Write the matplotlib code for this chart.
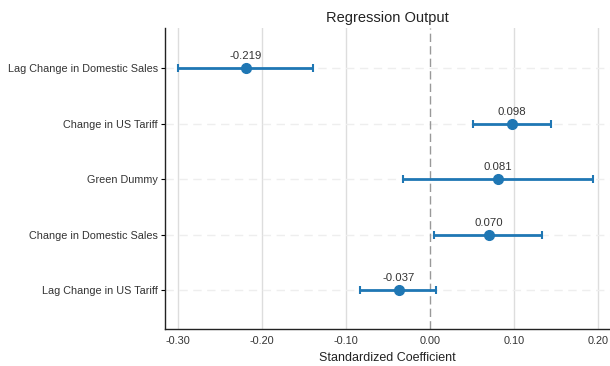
"""Coefficient plot of the standardized regression estimates."""
import matplotlib.pyplot as plt

plt.rcParams['font.family'] = ['Liberation Sans', 'DejaVu Sans']

variables = ["Lag Change in Domestic Sales", "Change in US Tariff", "Green Dummy",
             "Change in Domestic Sales", "Lag Change in US Tariff"]
coefs = [-0.219, 0.098, 0.081, 0.070, -0.037]
ci_low = [-0.300, 0.052, -0.032, 0.005, -0.083]
ci_high = [-0.139, 0.144, 0.194, 0.134, 0.008]
xticks = [-0.30, -0.20, -0.10, 0.00, 0.10, 0.20]

BLUE = "#1f77b4"

fig = plt.figure(figsize=(6.1, 3.66), dpi=100)
ax = fig.add_axes([0.2705, 0.1003, 0.7295, 0.8232])

ys = list(range(len(variables)))

for x in xticks:
    if x != 0:
        ax.axvline(x, color="#dddddd", linewidth=1, zorder=0)
for y in ys:
    ax.axhline(y, color="#eeeeee", linewidth=1, linestyle=(0, (6, 4)), zorder=0)
ax.axvline(0, color="#999999", linewidth=1, linestyle=(0, (6, 3)), zorder=1)

for y, c, lo, hi in zip(ys, coefs, ci_low, ci_high):
    ax.errorbar(c, y, xerr=[[c - lo], [hi - c]], fmt="o", color=BLUE,
                markersize=7, elinewidth=2, capsize=3, capthick=1.5, zorder=3)
    ax.annotate(f"{c:.3f}", (c, y), textcoords="offset points", xytext=(0, 5),
                ha="center", va="bottom", fontsize=8.2, color="#333333")

ax.set_xlim(-0.315, 0.2146)
ax.set_ylim(len(variables) - 0.3, -0.72)
ax.set_yticks(ys)
ax.set_yticklabels(variables)
ax.set_xticks(xticks)
ax.set_xticklabels([f"{x:.2f}" for x in xticks])
ax.tick_params(axis="x", length=0, labelsize=7.8, colors="#333333", pad=5)
ax.tick_params(axis="y", length=3, labelsize=7.8, colors="#333333", pad=2)
ax.tick_params(axis="both", color="black")

for side in ["top", "right"]:
    ax.spines[side].set_visible(False)
for side in ["left", "bottom"]:
    ax.spines[side].set_color("#222222")
    ax.spines[side].set_linewidth(1)

ax.set_xlabel("Standardized Coefficient", fontsize=9, color="#222222", labelpad=4)
ax.set_title("Regression Output", fontsize=10.5, color="#222222", pad=4)

fig.savefig("out.png", dpi=100)
